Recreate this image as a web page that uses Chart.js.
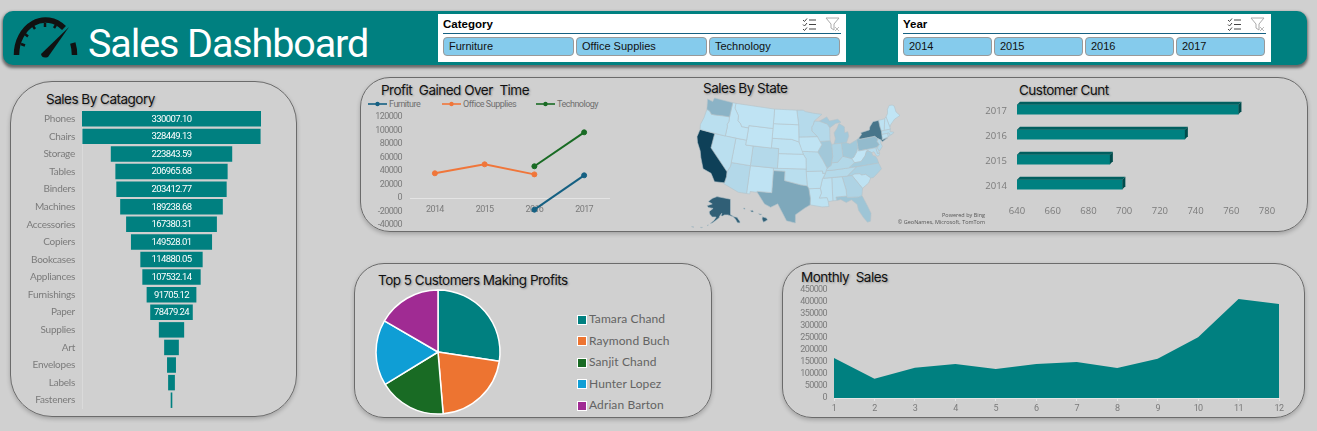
<!DOCTYPE html>
<html>
<head>
<meta charset="utf-8">
<title>Sales Dashboard</title>
<script src="https://cdn.jsdelivr.net/npm/chart.js@4/dist/chart.umd.min.js"></script>
<style>
  html, body { margin: 0; padding: 0; width: 1317px; height: 431px; overflow: hidden; background: #d0d0d0; font-family: "Open Sans", sans-serif; }
  canvas, .abs { position: absolute; }
  .panel { position: absolute; box-sizing: border-box; border: 1.3px solid #6b6b6b; box-shadow: 0 2px 4px rgba(0,0,0,.22); }
  .title { position: absolute; white-space: pre; color: #111; font: 13.5px Inter, sans-serif; letter-spacing: -.5px; line-height: 16px; text-shadow: 1px 1px 2px rgba(0,0,0,.3); }
  #header { position: absolute; left: 3px; top: 11px; width: 1304px; height: 54px; border-radius: 10px; background: #008080; box-shadow: 0 2px 3px 1px rgba(0,0,0,.5); }
  #bigtitle { position: absolute; left: 88px; top: 20px; color: #fff; font: 400 39.5px/48px Roboto, sans-serif; letter-spacing: -1.1px; white-space: pre; }
  .slicer { position: absolute; top: 14px; height: 48px; background: #fff; }
  .slicer b { position: absolute; left: 5px; top: 2px; font: bold 11.5px/16px "Liberation Sans", sans-serif; color: #000; }
  .slicer hr { position: absolute; left: 5px; right: 5px; top: 19px; margin: 0; border: 0; border-top: 1px solid #156082; }
  .btn { position: absolute; top: 23px; height: 19px; box-sizing: border-box; border: 1px solid #999; border-radius: 4px; background: #85cbec; font: 11px/17px "Liberation Sans", sans-serif; color: #111; padding-left: 5px; }
  .legend-text { position: absolute; white-space: pre; }
</style>
</head>
<body>
<div id="header"></div>
<svg class="abs" style="left:10px;top:14px" width="72" height="46" viewBox="0 0 72 46">
  <path d="M6.5 41 A29 35 0 0 1 54 14" fill="none" stroke="#111" stroke-width="5.5"/>
  <path d="M62.8 29 A29 35 0 0 1 64.5 41" fill="none" stroke="#111" stroke-width="5.5"/>
  <path d="M11 30l4 1.5M15 20l3 2.5M23 12l2 3M35 9v4M46 11l-2 3" stroke="#111" stroke-width="2.5"/>
  <path d="M31 40 L59 13 L38 43 Q32 45 31 40Z" fill="#111"/>
</svg>
<div id="bigtitle">Sales Dashboard</div>

<div id="slicers"></div>

<div class="panel" style="left:10px;top:81px;width:287px;height:336px;border-radius:42px"></div>
<div class="panel" style="left:360px;top:77px;width:948px;height:155px;border-radius:30px"></div>
<div class="panel" style="left:354px;top:263px;width:358px;height:155px;border-radius:30px"></div>
<div class="panel" style="left:782px;top:263px;width:523px;height:155px;border-radius:30px"></div>

<div class="title" style="left:46px;top:91px">Sales By Catagory</div>
<div class="title" style="left:381px;top:82px">Profit  Gained Over  Time</div>
<div class="title" style="left:703px;top:80px">Sales By State</div>
<div class="title" style="left:1019px;top:82px">Customer Cunt</div>
<div class="title" style="left:378px;top:272px">Top 5 Customers Making Profits</div>
<div class="title" style="left:801px;top:269px">Monthly  Sales</div>

<canvas id="funnel" width="260" height="299" style="left:10px;top:110px"></canvas>
<canvas id="profit" width="255" height="125" style="left:365px;top:110px"></canvas>
<canvas id="map" width="225" height="136" style="left:682px;top:96px"></canvas>
<canvas id="customers" width="300" height="123" style="left:980px;top:97px"></canvas>
<canvas id="pie" width="130" height="130" style="left:373px;top:287px"></canvas>
<canvas id="monthly" width="505" height="138" style="left:785px;top:280px"></canvas>

<div class="abs" style="right:332px;top:212px;text-align:right;font:5.5px/7px 'Open Sans',sans-serif;color:#555">Powered by Bing<br>© GeoNames, Microsoft, TomTom</div>
<div id="legends"></div>

<script>
// data
const categoryButtons = ["Furniture", "Office Supplies", "Technology"];
const yearButtons = ["2014", "2015", "2016", "2017"];

const subCategories = ["Phones", "Chairs", "Storage", "Tables", "Binders", "Machines", "Accessories", "Copiers", "Bookcases", "Appliances", "Furnishings", "Paper", "Supplies", "Art", "Envelopes", "Labels", "Fasteners"];
const subCategorySales = [330007.10, 328449.13, 223843.59, 206965.68, 203412.77, 189238.68, 167380.31, 149528.01, 114880.05, 107532.14, 91705.12, 78479.24, 46673, 27118, 16476, 12486, 3024];
const labelledBars = 12;

const profitYears = ["2014", "2015", "2016", "2017"];
const profitFurniture = [null, null, -17300, 33600];
const profitOffice = [36600, 49900, 35000, null];
const profitTechnology = [null, null, 47000, 97300];

const customerYears = ["2017", "2016", "2015", "2014"];
const customerCounts = [764, 734, 692, 699];

const topCustomers = ["Tamara Chand", "Raymond Buch", "Sanjit Chand", "Hunter Lopez", "Adrian Barton"];
const topProfits = [8981, 6976, 5757, 5622, 5444];
const pieColors = ["#008080", "#ed7431", "#196b24", "#0f9ed5", "#a02b93"];

const months = ["1", "2", "3", "4", "5", "6", "7", "8", "9", "10", "11", "12"];
const monthlySales = [166700, 80500, 126400, 141700, 120800, 141700, 150000, 125000, 163900, 252800, 412500, 391700];

const stateNames = ["Washington", "Oregon", "California", "Nevada", "Idaho", "Montana", "Wyoming", "Utah", "Colorado", "Arizona", "New Mexico", "North Dakota", "South Dakota", "Nebraska", "Kansas", "Oklahoma", "Texas", "Minnesota", "Iowa", "Missouri", "Arkansas", "Louisiana", "Wisconsin", "Illinois", "Indiana", "Ohio", "Michigan", "Michigan", "Kentucky", "Tennessee", "Mississippi", "Alabama", "Georgia", "Florida", "South Carolina", "North Carolina", "Virginia", "West Virginia", "Maryland", "Delaware", "Pennsylvania", "New Jersey", "New York", "Connecticut", "Rhode Island", "Massachusetts", "Vermont", "New Hampshire", "Maine"];
const stateSales = [138000, 17400, 457000, 16700, 4400, 5600, 1600, 11200, 32100, 35300, 4800, 900, 1300, 7500, 2900, 19700, 170000, 29900, 4600, 22200, 11700, 9200, 32100, 80100, 53500, 78200, 76300, 76300, 36600, 30700, 10800, 19500, 49100, 89500, 8500, 55600, 70600, 1200, 23700, 27500, 116500, 35800, 310900, 13400, 22600, 28600, 9000, 7300, 1300];
// lon/lat outlines, one list per entry of stateNames
const stateShapes = [
  [[-124.7,48.4],[-123,48.2],[-122.8,49],[-117,49],[-117,46],[-119,45.9],[-121,45.7],[-122.3,45.6],[-123.2,46.2],[-124,46.3]],
  [[-124,46.3],[-123.2,46.2],[-122.3,45.6],[-121,45.7],[-119,45.9],[-117,46],[-116.9,45],[-117.2,44.4],[-117,44],[-117,42],[-124.2,42],[-124.5,43],[-124.1,44.5]],
  [[-124.2,42],[-120,42],[-120,39],[-114.6,35],[-114.5,34],[-114.7,32.7],[-117.1,32.5],[-118.4,34],[-120.6,34.5],[-121.9,36.6],[-122.5,37.8],[-123.8,39.3],[-124.4,40.4]],
  [[-120,42],[-114,42],[-114,36.2],[-114.6,35],[-120,39]],
  [[-117,49],[-116,49],[-116,48],[-114.5,46.6],[-114.4,45.6],[-113.5,45.1],[-113,44.5],[-111,44.5],[-111,42],[-117,42],[-117,44],[-117.2,44.4],[-116.9,45],[-117,46]],
  [[-116,49],[-104,49],[-104,45],[-111,45],[-111,44.5],[-113,44.5],[-113.5,45.1],[-114.4,45.6],[-114.5,46.6],[-116,48]],
  [[-111,45],[-104,45],[-104,41],[-111,41]],
  [[-114,42],[-111,42],[-111,41],[-109,41],[-109,37],[-114,37]],
  [[-109,41],[-102,41],[-102,37],[-109,37]],
  [[-114,37],[-109,37],[-109,31.3],[-111,31.3],[-114.8,32.5],[-114.7,32.7],[-114.5,34],[-114.6,35],[-114,36.2]],
  [[-109,37],[-103,37],[-103,32],[-106.6,32],[-106.5,31.8],[-108.2,31.8],[-108.2,31.3],[-109,31.3]],
  [[-104,49],[-97.2,49],[-96.6,46],[-104,46]],
  [[-104,46],[-96.6,46],[-96.5,42.5],[-98.5,43],[-104,43]],
  [[-104,43],[-98.5,43],[-96.5,42.5],[-95.3,40],[-102,40],[-102,41],[-104,41]],
  [[-102,40],[-95.3,40],[-94.6,39.1],[-94.6,37],[-102,37]],
  [[-103,37],[-94.6,37],[-94.6,36.5],[-94.4,33.6],[-96,33.8],[-100,34.6],[-100,36.5],[-103,36.5]],
  [[-103,36.5],[-100,36.5],[-100,34.6],[-96,33.8],[-94.4,33.6],[-94,33],[-93.7,31],[-93.8,29.7],[-95,29.1],[-97.2,27.7],[-97.2,26],[-99.2,26.4],[-101.4,29.8],[-103,29],[-104.5,29.6],[-106.5,31.8],[-106.6,32],[-103,32]],
  [[-97.2,49],[-95.2,49],[-94.6,48.7],[-92,48.3],[-89.6,48],[-92,46.7],[-92.3,46],[-92.8,45.5],[-92.8,44.7],[-91.3,43.5],[-96.5,43.5],[-96.6,46]],
  [[-96.5,43.5],[-91.3,43.5],[-90.2,41.8],[-91.4,40.4],[-95.8,40.6],[-96.5,42.5]],
  [[-95.8,40.6],[-91.4,40.4],[-90.2,38.7],[-89.2,37],[-89.5,36.5],[-89.7,36],[-90.4,36],[-90.4,36.5],[-94.6,36.5],[-94.6,39.1],[-95.3,40]],
  [[-94.6,36.5],[-90.4,36.5],[-90.4,36],[-89.7,36],[-90.6,34.8],[-91.2,33],[-94,33],[-94.4,33.6]],
  [[-94,33],[-91.2,33],[-91,32],[-91.6,31],[-89.7,31],[-89.5,30.2],[-89.4,29.2],[-91,29.2],[-93.8,29.7],[-93.7,31]],
  [[-92,46.7],[-90.5,46.6],[-88.2,45.9],[-87.6,45.1],[-87.8,43],[-87.8,42.5],[-90.6,42.5],[-91.3,43.5],[-92.8,44.7],[-92.8,45.5],[-92.3,46]],
  [[-90.6,42.5],[-87.8,42.5],[-87.5,41.7],[-87.5,39.3],[-88,38],[-88.1,37.5],[-89.2,37],[-90.2,38.7],[-91.4,40.4],[-90.2,41.8]],
  [[-87.5,41.7],[-86.8,41.76],[-84.8,41.76],[-84.8,39.1],[-85.4,38.7],[-86.3,38],[-88,38],[-87.5,39.3]],
  [[-84.8,41.76],[-83.4,41.7],[-82.5,41.4],[-80.5,42],[-80.5,40.6],[-81,39.6],[-82,38.6],[-82.6,38.4],[-84.8,39.1]],
  [[-86.8,41.76],[-83.4,41.7],[-82.5,43],[-82.6,43.9],[-83.5,43.8],[-83.4,45],[-84.8,45.8],[-85.6,44.8],[-86.5,44],[-86.3,42.8]],
  [[-90.5,46.6],[-88.2,47.4],[-87.5,46.5],[-85,46.7],[-84.2,46],[-85.8,45.9],[-87.6,45.1],[-88.2,45.9]],
  [[-89.5,36.5],[-88,36.5],[-83.7,36.6],[-82,37.5],[-82.6,38.4],[-84.8,39.1],[-85.4,38.7],[-86.3,38],[-88,38],[-88.1,37.5],[-89.2,37]],
  [[-89.7,36],[-89.5,36.5],[-88,36.5],[-83.7,36.6],[-81.7,36.6],[-84.3,35],[-90.3,35]],
  [[-90.3,35],[-88.2,35],[-88.4,30.3],[-89.5,30.2],[-89.7,31],[-91.6,31],[-91,32],[-91.2,33],[-90.6,34.8]],
  [[-88.2,35],[-85.6,35],[-85,32.3],[-85,31],[-87.6,31],[-87.5,30.3],[-88.4,30.3]],
  [[-85.6,35],[-83.1,35],[-81,32.1],[-81.4,30.7],[-82.2,30.5],[-84.9,30.7],[-85,31],[-85,32.3]],
  [[-87.6,31],[-85,31],[-84.9,30.7],[-82.2,30.5],[-81.4,30.7],[-80.5,28.4],[-80,26.8],[-80.4,25.2],[-81.1,25.1],[-81.8,26.1],[-82.7,27.8],[-82.8,29],[-84,30.1],[-85.3,29.7],[-86.5,30.4],[-87.5,30.3]],
  [[-83.1,35],[-82.4,35.2],[-81,35.1],[-80.8,34.8],[-79.7,34.8],[-78.6,33.9],[-79.3,33],[-81,32.1]],
  [[-84.3,35],[-81.7,36.6],[-75.9,36.55],[-75.5,35.3],[-76.5,34.7],[-77.9,33.9],[-78.6,33.9],[-79.7,34.8],[-80.8,34.8],[-81,35.1],[-82.4,35.2],[-83.1,35]],
  [[-83.7,36.6],[-75.9,36.55],[-76,37.3],[-76.3,38],[-77,38.3],[-77.1,38.9],[-77.8,39.3],[-78.4,39.4],[-79,38.5],[-80.3,37.5],[-82,37.5]],
  [[-82,37.5],[-80.3,37.5],[-79,38.5],[-78.4,39.4],[-77.8,39.3],[-78.4,39.7],[-79.5,39.7],[-80.5,39.7],[-80.5,40.6],[-81,39.6],[-82,38.6],[-82.6,38.4]],
  [[-79.5,39.7],[-75.8,39.7],[-75.7,38.5],[-75.1,38.4],[-75.4,38],[-76,38],[-76.5,39],[-77.1,38.9],[-77.8,39.3],[-78.4,39.7]],
  [[-75.8,39.7],[-75.4,39.8],[-75.1,38.5],[-75.7,38.5]],
  [[-80.5,42],[-79.8,42.3],[-79.8,42],[-75.4,42],[-74.7,41.4],[-75.1,40.9],[-74.7,40.2],[-75.4,39.8],[-75.8,39.7],[-80.5,39.7]],
  [[-74.7,41.4],[-74,41],[-74.2,40.4],[-74,39.7],[-74.9,38.95],[-75.5,39.5],[-74.7,40.2],[-75.1,40.9]],
  [[-79.8,42],[-79.8,42.3],[-78.9,42.9],[-79,43.3],[-76.5,43.5],[-76.2,44.1],[-75,45],[-73.35,45],[-73.4,43.6],[-73.3,42.7],[-73.5,41.3],[-73.7,41],[-72,41.1],[-73.7,40.6],[-74,41],[-74.7,41.4],[-75.4,42]],
  [[-73.5,42.05],[-71.8,42],[-71.8,41.3],[-73.7,41]],
  [[-71.8,42],[-71.4,42],[-71.2,41.5],[-71.8,41.3]],
  [[-73.3,42.75],[-71.3,42.7],[-70.7,42.7],[-71,42.2],[-70,41.9],[-70.5,41.6],[-71.2,41.5],[-71.4,42],[-71.8,42],[-73.5,42.05]],
  [[-73.35,45],[-71.5,45],[-72.5,42.73],[-73.3,42.75],[-73.4,43.6]],
  [[-71.5,45],[-71,45.3],[-70.7,43.1],[-70.7,42.7],[-71.3,42.7],[-72.5,42.73]],
  [[-71,45.3],[-70.3,45.9],[-70,46.7],[-69.2,47.4],[-68.3,47.3],[-67.8,47],[-67.8,45.7],[-67,44.8],[-68.8,44.4],[-70.2,43.6],[-70.7,43.1]]
];
const alaskaSales = 370000;
const alaskaShapes = [
  [[-156.5,71.3],[-141,69.7],[-141,60.3],[-137,58.9],[-133.5,58.5],[-130.2,56],[-130,55],[-133,55.2],[-135.5,57.5],[-138,58.9],[-144,60],[-148,60],[-150,59.3],[-152,59.5],[-151,61],[-153.5,59.2],[-154,58.3],[-158,56.5],[-162,55],[-164.5,54.7],[-160,56.5],[-157.5,58.7],[-162,58.7],[-165,60.5],[-165.5,62],[-161,64],[-166.5,64.6],[-168,65.6],[-162,66.8],[-166.5,68.3],[-162,70.2]],
  [[-168,53.5],[-166.5,53.9],[-167,53.3]],
  [[-176,52.3],[-173,52.3],[-174,52]],
  [[-186,52.8],[-183,52.6],[-184,52.4]]
];
const hawaiiSales = 370000;
const hawaiiShapes = [
  [[-155.9,20.2],[-155.1,19.9],[-154.9,19.5],[-155.7,18.95],[-156,19.7]],
  [[-156.7,20.9],[-156,20.8],[-156.4,20.6]],
  [[-158.3,21.55],[-157.9,21.7],[-157.7,21.3],[-158.1,21.3]],
  [[-159.8,22.1],[-159.4,22.2],[-159.4,21.9]]
];

const tealColor = "#008080";
const axisGray = "#7b7b7b";
const smallFont = { family: "Roboto, sans-serif", size: 9 };
const noGrid = { display: false, drawTicks: false };

// fixed axis sizes so the plot areas land where they do in the sheet
const fixWidth = (w) => (scale) => { scale.width = w; scale.paddingTop = 0; scale.paddingBottom = 0; };
const fixHeight = (h) => (scale) => { scale.height = h; scale.paddingLeft = 0; scale.paddingRight = 0; };

// the sheet uses a narrower face than any installed font
const tightText = (px) => ({
  id: "tightText",
  beforeDraw(chart) { chart.ctx.letterSpacing = px; },
});

// slicers
function addSlicer(left, width, name, items, btnLeft, btnWidth, btnStep) {
  let html = `<div class="slicer" style="left:${left}px;width:${width}px"><b>${name}</b><hr>`;
  items.forEach((item, i) => {
    html += `<div class="btn" style="left:${btnLeft + i * btnStep}px;width:${btnWidth}px">${item}</div>`;
  });
  html += `<svg class="abs" style="left:${width - 44}px;top:3px" width="40" height="15" viewBox="0 0 40 15">
    <path d="M1 3l1.5 1.5L5 1.5M1 7.5l1.5 1.5L5 6M1 12l1.5 1.5L5 10.5" fill="none" stroke="#444" stroke-width="1"/>
    <path d="M7 3h7M7 7.5h7M7 12h7" stroke="#444" stroke-width="1"/>
    <path d="M24 1h13l-5 6v6l-3-2V7z" fill="none" stroke="#aaa" stroke-width="1"/>
    <path d="M33 10l4 4M37 10l-4 4" stroke="#bbb" stroke-width="1"/></svg></div>`;
  document.getElementById("slicers").insertAdjacentHTML("beforeend", html);
}
addSlicer(438, 408, "Category", categoryButtons, 5, 131, 133);
addSlicer(898, 373, "Year", yearButtons, 5, 89, 91);

// funnel labels sit in the middle of the first bars
const funnelLabels = {
  id: "funnelLabels",
  afterDatasetsDraw(chart) {
    const ctx = chart.ctx;
    ctx.save();
    ctx.fillStyle = "#fff";
    ctx.letterSpacing = "-0.6px";
    ctx.font = "9.5px Roboto, sans-serif";
    ctx.textAlign = "center";
    ctx.textBaseline = "middle";
    chart.getDatasetMeta(0).data.forEach((bar, i) => {
      if (i < labelledBars) {
        ctx.fillText(subCategorySales[i].toFixed(2), (bar.x + bar.base) / 2, bar.y + 0.5);
      }
    });
    ctx.restore();
  },
};

const funnelTop = Math.max(...subCategorySales);
new Chart(document.getElementById("funnel"), {
  type: "bar",
  data: {
    labels: subCategories,
    datasets: [{
      data: subCategorySales.map((v) => [(funnelTop - v) / 2, (funnelTop + v) / 2]),
      backgroundColor: tealColor,
      categoryPercentage: 1,
      barPercentage: 0.88,
    }],
  },
  options: {
    indexAxis: "y",
    responsive: false,
    animation: false,
    layout: { padding: { right: 9 } },
    plugins: { legend: { display: false }, tooltip: { enabled: false } },
    scales: {
      x: { display: false, min: 0, max: funnelTop },
      y: {
        afterFit: fixWidth(72),
        grid: noGrid,
        border: { color: "#dadada" },
        ticks: { color: axisGray, font: { family: "Lato, sans-serif", size: 10 }, padding: 7, autoSkip: false },
      },
    },
  },
  plugins: [tightText("-0.25px"), funnelLabels],
});

// profit line chart
new Chart(document.getElementById("profit"), {
  type: "line",
  data: {
    labels: profitYears,
    datasets: [
      { label: "Furniture", data: profitFurniture, borderColor: "#156082", backgroundColor: "#156082" },
      { label: "Office Supplies", data: profitOffice, borderColor: "#f0763a", backgroundColor: "#f0763a" },
      { label: "Technology", data: profitTechnology, borderColor: "#196b24", backgroundColor: "#196b24" },
    ],
  },
  options: {
    responsive: false,
    animation: false,
    elements: { point: { radius: 2.5 }, line: { borderWidth: 2 } },
    layout: { padding: { top: 7, bottom: 10, right: 11 } },
    plugins: { legend: { display: false }, tooltip: { enabled: false } },
    scales: {
      x: {
        position: { y: 0 },
        offset: true,
        grid: noGrid,
        border: { color: "#e4e4e4" },
        ticks: { color: axisGray, font: smallFont, padding: 6, maxRotation: 0 },
      },
      y: {
        min: -40000,
        max: 120000,
        afterFit: fixWidth(45),
        grid: noGrid,
        border: { display: false },
        ticks: { stepSize: 20000, autoSkip: false, color: axisGray, font: smallFont, padding: 8, callback: (v) => String(v) },
      },
    },
  },
  plugins: [tightText("-0.6px")],
});

// map: lon/lat outlines go through an Albers projection, then the chart's scales
const rad = Math.PI / 180;
const albersN = (Math.sin(29.5 * rad) + Math.sin(45.5 * rad)) / 2;
const albersC = Math.cos(29.5 * rad) ** 2 + 2 * albersN * Math.sin(29.5 * rad);
const albersR0 = Math.sqrt(albersC - 2 * albersN * Math.sin(37.5 * rad)) / albersN;
function albers([lon, lat]) {
  const r = Math.sqrt(albersC - 2 * albersN * Math.sin(lat * rad)) / albersN;
  const a = albersN * (lon + 96) * rad;
  return [r * Math.sin(a), albersR0 - r * Math.cos(a)];
}
const projected = stateShapes.map((shape) => shape.map(albers));
const allPts = projected.flat();
const minX = Math.min(...allPts.map((p) => p[0]));
const maxX = Math.max(...allPts.map((p) => p[0]));
const minY = Math.min(...allPts.map((p) => p[1]));
const maxY = Math.max(...allPts.map((p) => p[1]));

// sheet pixels that the lower 48 occupy
const mapLeft = 697, mapRight = 900, mapTop = 98, mapBottom = 223;
const toSheet = ([x, y]) => ({
  x: mapLeft + ((x - minX) / (maxX - minX)) * (mapRight - mapLeft),
  y: mapBottom - ((y - minY) / (maxY - minY)) * (mapBottom - mapTop),
});
const alaskaInset = ([lon, lat]) => ({ x: 707 + (lon + 168) * 0.87, y: 223 - (lat - 55) * 1.62 });
const hawaiiInset = ([lon, lat]) => ({ x: 742 + (lon + 160) * 5, y: 208 + (22.2 - lat) * 4.4 });

// colour ramp of the filled map
function saleColor(v) {
  const t = Math.min(v / 457000, 1);
  const mix = (a, b) => Math.round(a + (b - a) * t);
  return `rgb(${mix(193, 14)},${mix(229, 64)},${mix(245, 88)})`;
}
function mapDataset(label, points, sales) {
  return { label, data: points, showLine: false, pointRadius: 0, mapFill: saleColor(sales) };
}
const mapDatasets = projected.map((shape, i) => mapDataset(stateNames[i], shape.map(toSheet), stateSales[i]));
alaskaShapes.forEach((s) => mapDatasets.push(mapDataset("Alaska", s.map(alaskaInset), alaskaSales)));
hawaiiShapes.forEach((s) => mapDatasets.push(mapDataset("Hawaii", s.map(hawaiiInset), hawaiiSales)));

// closes each outline and fills it from the points the scales placed
const stateFill = {
  id: "stateFill",
  beforeDatasetDraw(chart, args) {
    const pts = args.meta.data;
    const ctx = chart.ctx;
    ctx.save();
    ctx.beginPath();
    pts.forEach((p, i) => (i ? ctx.lineTo(p.x, p.y) : ctx.moveTo(p.x, p.y)));
    ctx.closePath();
    ctx.fillStyle = chart.data.datasets[args.index].mapFill;
    ctx.fill();
    ctx.strokeStyle = "#b4c2ca";
    ctx.lineWidth = 0.6;
    ctx.stroke();
    ctx.restore();
  },
};

new Chart(document.getElementById("map"), {
  type: "scatter",
  data: { datasets: mapDatasets },
  options: {
    responsive: false,
    animation: false,
    plugins: { legend: { display: false }, tooltip: { enabled: false } },
    scales: {
      x: { display: false, min: 682, max: 907 },
      y: { display: false, min: 96, max: 232, reverse: true },
    },
  },
  plugins: [stateFill],
});

// flat bars get a top and a side face
const barDepth = {
  id: "barDepth",
  afterDatasetsDraw(chart) {
    const ctx = chart.ctx;
    const d = 3;
    chart.getDatasetMeta(0).data.forEach((bar) => {
      const top = bar.y - bar.height / 2;
      const bottom = bar.y + bar.height / 2;
      ctx.fillStyle = "#005f5f";
      ctx.beginPath();
      ctx.moveTo(bar.base, top);
      ctx.lineTo(bar.base + d, top - d);
      ctx.lineTo(bar.x + d, top - d);
      ctx.lineTo(bar.x, top);
      ctx.closePath();
      ctx.fill();
      ctx.fillStyle = "#004c4c";
      ctx.beginPath();
      ctx.moveTo(bar.x, top);
      ctx.lineTo(bar.x + d, top - d);
      ctx.lineTo(bar.x + d, bottom - d);
      ctx.lineTo(bar.x, bottom);
      ctx.closePath();
      ctx.fill();
    });
  },
};

new Chart(document.getElementById("customers"), {
  type: "bar",
  data: { labels: customerYears, datasets: [{ data: customerCounts, base: 640, backgroundColor: tealColor, barThickness: 9.5 }] },
  options: {
    indexAxis: "y",
    responsive: false,
    animation: false,
    layout: { padding: { right: 13 } },
    plugins: { legend: { display: false }, tooltip: { enabled: false } },
    scales: {
      x: {
        min: 640,
        max: 780,
        afterFit: fixHeight(23),
        grid: noGrid,
        border: { display: false },
        ticks: { stepSize: 20, color: axisGray, font: { family: "'Open Sans', sans-serif", size: 9.5 }, padding: 9, maxRotation: 0 },
      },
      y: {
        afterFit: fixWidth(37),
        grid: noGrid,
        border: { display: false },
        ticks: { color: axisGray, font: { family: "'Open Sans', sans-serif", size: 9.5 }, padding: 10, labelOffset: 2 },
      },
    },
  },
  plugins: [barDepth],
});

// top customers
new Chart(document.getElementById("pie"), {
  type: "pie",
  data: { labels: topCustomers, datasets: [{ data: topProfits, backgroundColor: pieColors, borderColor: "#fff", borderWidth: 1.5 }] },
  options: {
    responsive: false,
    animation: false,
    radius: 62,
    plugins: { legend: { display: false }, tooltip: { enabled: false } },
  },
});

// monthly area
new Chart(document.getElementById("monthly"), {
  type: "line",
  data: { labels: months, datasets: [{ data: monthlySales, fill: "origin", backgroundColor: tealColor, borderWidth: 0, pointRadius: 0, tension: 0 }] },
  options: {
    responsive: false,
    animation: false,
    layout: { padding: { top: 10, right: 11 } },
    plugins: { legend: { display: false }, tooltip: { enabled: false } },
    scales: {
      x: {
        offset: false,
        afterFit: fixHeight(20),
        grid: { drawOnChartArea: false, color: "#e6e6e6", tickLength: 3 },
        border: { color: "#e6e6e6" },
        ticks: { color: axisGray, font: smallFont, padding: 2, maxRotation: 0 },
      },
      y: {
        min: 0,
        max: 450000,
        afterFit: fixWidth(49),
        grid: noGrid,
        border: { display: false },
        ticks: { stepSize: 50000, autoSkip: false, color: axisGray, font: smallFont, padding: 7, callback: (v) => String(v) },
      },
    },
  },
  plugins: [tightText("-0.6px")],
});

// legends for the line and pie charts
const legendBox = document.getElementById("legends");
[["Furniture", "#156082", 368, 389], ["Office Supplies", "#f0763a", 442, 463], ["Technology", "#196b24", 536, 557]].forEach(([name, color, x, tx]) => {
  legendBox.insertAdjacentHTML("beforeend",
    `<svg class="abs" style="left:${x}px;top:100px" width="20" height="8"><path d="M0 4H19" stroke="${color}" stroke-width="1.6"/><circle cx="9.5" cy="4" r="2.2" fill="${color}"/></svg>
     <div class="legend-text" style="left:${tx}px;top:98px;font:9px/12px Roboto,sans-serif;letter-spacing:-.5px;color:#6f6f6f">${name}</div>`);
});
topCustomers.forEach((name, i) => {
  const y = 319 + i * 21.5;
  legendBox.insertAdjacentHTML("beforeend",
    `<div class="abs" style="left:577px;top:${y - 4.5}px;width:8px;height:8px;background:${pieColors[i]};border:0.7px solid #fff"></div>
     <div class="legend-text" style="left:589px;top:${y - 8}px;font:12px/16px Lato,sans-serif;letter-spacing:.1px;color:#636363">${name}</div>`);
});
</script>
</body>
</html>
